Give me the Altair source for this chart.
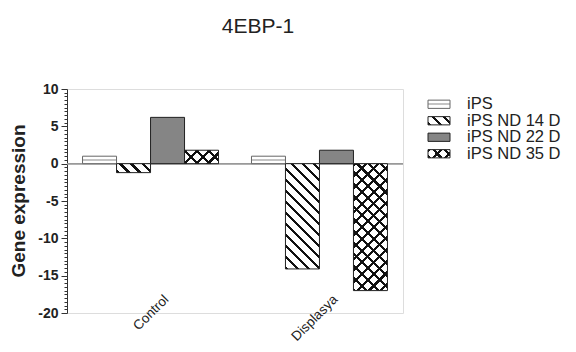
import math
import altair as alt
import pandas as pd

# ---------------- data ----------------
groups = ["Control", "Displasya"]
series = ["iPS", "iPS ND 14 D", "iPS ND 22 D", "iPS ND 35 D"]
control_vals = [1.0, -1.2, 6.2, 1.8]
displasya_vals = [1.0, -14.1, 1.8, -17.0]
y_tick_values = [v * 0.5 for v in range(-40, 21)]
y_domain = [-20, 10]
title_text = "4EBP-1"
y_title = "Gene expression"

rows = []
for g, vals in zip(groups, [control_vals, displasya_vals]):
    for s, v in zip(series, vals):
        rows.append({"group": g, "series": s, "value": v})
df = pd.DataFrame(rows)
legend_df = pd.DataFrame({"series": series})

# ---------------- style ----------------
W, H = 336, 224
PX_PER_UNIT = H / (y_domain[1] - y_domain[0])
BAR_W = 34
FONT = "Liberation Sans"
INK = "#222222"


def stripes(w, h, period, lw, direction, line, bg):
    D = (w + h) / math.sqrt(2)
    k = (w + h) / (w * w + h * h)
    if direction == "/":
        x1, y1, x2, y2 = 0, 0, k * w, k * h
    else:
        x1, y1, x2, y2 = 0, 1, k * w, 1 - k * h
    stops = []
    p = 0.0
    while p < D:
        a = p / D
        b = min((p + lw) / D, 1)
        c = min((p + period) / D, 1)
        stops += [(a, line), (b, line), (b, bg), (c, bg)]
        p += period
    return alt.LinearGradient(
        gradient="linear", x1=x1, y1=y1, x2=x2, y2=y2,
        stops=[alt.GradientStop(offset=round(o, 4), color=col) for o, col in stops],
    )


def dotted(w, h):
    return alt.LinearGradient(
        gradient="linear", x1=0, y1=0, x2=0, y2=1,
        stops=[
            alt.GradientStop(offset=0, color="#ffffff"),
            alt.GradientStop(offset=0.4, color="#ffffff"),
            alt.GradientStop(offset=0.4, color="#c4c4c4"),
            alt.GradientStop(offset=0.6, color="#c4c4c4"),
            alt.GradientStop(offset=0.6, color="#ffffff"),
            alt.GradientStop(offset=1, color="#ffffff"),
        ],
    )


def mark_styles(s, w, h):
    """Return a list of mark_bar kwargs (layers) for the pattern of series s."""
    if s == series[0]:
        return [dict(fill=dotted(w, h), stroke="#666666", strokeWidth=1)]
    if s == series[1]:
        return [dict(fill=stripes(w, h, 7.8, 2.2, "\\", "#111111", "#ffffff"),
                     stroke="#222222", strokeWidth=1)]
    if s == series[2]:
        return [dict(fill="#858585", stroke="#222222", strokeWidth=1)]
    return [
        dict(fill=stripes(w, h, 8.3, 2.2, "\\", "#111111", "#ffffff"), strokeWidth=0),
        dict(fill=stripes(w, h, 8.3, 2.2, "/", "#111111", "rgba(255,255,255,0)"),
             stroke="#222222", strokeWidth=1),
    ]


y_scale = alt.Scale(domain=y_domain, nice=False, zero=False)
y_axis = alt.Axis(
    values=y_tick_values,
    labelExpr="datum.value % 5 === 0 ? '' + datum.value : ''",
    tickSize={"condition": {"test": "datum.value % 5 === 0", "value": 6}, "value": 3},
    labelOverlap=False,
    grid=False,
    domainColor="#333333",
    tickColor="#333333",
    labelFont=FONT,
    labelFontSize=14,
    labelFontWeight="bold",
    labelColor=INK,
    labelPadding=3,
    title=None,
)
x_axis = alt.Axis(
    title=None, domain=False, ticks=False, labelAngle=-45,
    labelAlign="right", labelBaseline="top", labelPadding=-21, labelOffset=11,
    labelFont=FONT, labelFontSize=13.5, labelColor=INK,
)
x_enc = alt.X("group:N", scale=alt.Scale(domain=groups, paddingInner=0.195, paddingOuter=0.092), axis=x_axis)
xo_enc = alt.XOffset("series:N", scale=alt.Scale(domain=series, paddingInner=0, paddingOuter=0))
y_enc = alt.Y("value:Q", scale=y_scale, axis=y_axis, title=None)

zero_rule = alt.Chart(df).mark_rule(color="#9a9a9a", strokeWidth=1).encode(
    y=alt.YDatum(0, scale=y_scale, axis=y_axis, title=None)
)

# y-axis title drawn as a rotated text label
y_title_text = alt.Chart(pd.DataFrame({"t": [y_title]})).mark_text(
    angle=270, align="center", baseline="middle", font=FONT, fontSize=19,
    fontWeight="bold", color=INK,
).encode(text="t:N", x=alt.value(-48), y=alt.value(H / 2))

bar_layers = [zero_rule]
for g, vals in zip(groups, [control_vals, displasya_vals]):
    for s, v in zip(series, vals):
        h = abs(v) * PX_PER_UNIT
        for kw in mark_styles(s, BAR_W, h):
            bar_layers.append(
                alt.Chart(df)
                .transform_filter((alt.datum.group == g) & (alt.datum.series == s))
                .mark_bar(**kw)
                .encode(x=x_enc, xOffset=xo_enc, y=y_enc)
            )
bars = alt.layer(*bar_layers)

leg_y = alt.Y("series:N", scale=alt.Scale(domain=series, range=[7, 73], paddingInner=0.5, paddingOuter=0.25), axis=None)
legend_layers = [y_title_text]
for s in series:
    for kw in mark_styles(s, 22, 8):
        legend_layers.append(
            alt.Chart(legend_df)
            .transform_filter(alt.datum.series == s)
            .mark_bar(**kw)
            .encode(y=leg_y, x=alt.value(361), x2=alt.value(383))
        )
legend_layers.append(
    alt.Chart(legend_df).mark_text(align="left", baseline="middle", font=FONT, fontSize=16.5, color=INK)
    .encode(y=leg_y, x=alt.value(400), text="series:N")
)
legend = alt.layer(*legend_layers)

chart = (
    alt.layer(bars, legend)
    .resolve_scale(y="independent")
    .properties(
        width=W, height=H,
        autosize=alt.AutoSizeParams(type="none"),
        padding={"left": 59, "top": 81, "right": 165, "bottom": 31},
        title=alt.TitleParams(title_text, font=FONT, fontSize=21, fontWeight="normal", color=INK, dx=23, offset=45),
    )
    .configure_view(stroke=None)
    .configure(background="white")
)

chart.save("out.html", embed_options={"renderer": "svg", "actions": False})
